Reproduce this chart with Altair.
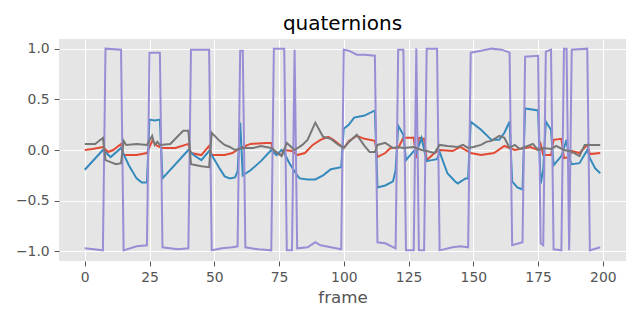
import altair as alt
import pandas as pd

# series: (frame, value) key points
red_f = [0,3,7,9,11,14,15,20,24,26,28,30,35,40,41,45,48,49,54,57,60,64,70,72,73,76,77,80,82,85,88,91,94,96,99,100,102,105,108,112,113,116,118,121,123,127,128,129,131,132,135,137,142,145,149,153,158,162,164,166,170,172,175,176,177,180,181,184,185,187,188,191,194,195,199]
red_v = [0.0,0.01,0.03,-0.02,0.0,0.06,-0.05,-0.05,-0.03,0.09,0.04,0.02,0.02,0.06,-0.03,-0.05,0.04,-0.05,-0.05,-0.03,0.02,0.06,0.07,0.07,-0.03,-0.05,0.0,-0.01,-0.05,-0.03,0.05,0.1,0.13,0.1,0.04,0.02,0.09,0.14,0.11,0.09,-0.07,-0.03,0.02,0.02,0.12,0.12,-0.08,0.12,0.11,-0.1,-0.03,0.0,-0.01,0.03,-0.03,-0.05,-0.03,0.04,0.02,0.0,0.02,0.03,0.0,0.06,-0.05,-0.05,0.1,0.11,-0.08,-0.07,-0.01,-0.03,0.05,-0.04,-0.03]

blue_f = [0,7,10,14,15,17,20,22,24,25,27,29,30,40,42,45,48,49,52,54,56,58,59,60,61,64,68,72,74,76,77,79,82,83,86,89,92,95,99,100,102,104,108,112,113,116,119,120,121,123,124,127,128,130,132,134,136,137,140,143,144,147,148,149,153,157,160,162,164,165,167,169,170,175,176,177,178,180,181,184,185,186,187,188,191,194,195,197,199]
blue_v = [-0.195,0.0,-0.07,0.02,-0.04,-0.15,-0.28,-0.32,-0.32,0.30,0.29,0.30,-0.28,0.0,-0.05,-0.1,-0.01,-0.05,-0.18,-0.26,-0.28,-0.27,-0.21,0.27,-0.25,-0.2,-0.11,0.0,-0.05,0.0,-0.03,-0.13,-0.25,-0.28,-0.29,-0.29,-0.25,-0.19,-0.17,0.21,0.25,0.32,0.34,0.39,-0.37,-0.35,-0.31,-0.2,0.24,0.15,-0.1,-0.01,-0.03,0.12,-0.11,-0.1,-0.09,-0.02,-0.23,-0.31,-0.33,-0.28,-0.28,0.28,0.2,0.1,0.1,0.17,0.28,-0.31,-0.37,-0.39,0.41,0.39,-0.33,-0.2,0.28,0.2,-0.15,-0.06,0.02,0.1,-0.08,-0.14,-0.13,0.0,-0.08,-0.18,-0.23]

purple_f = [0,7,8,14,15,20,24,25,29,30,36,40,41,48,49,53,57,59,60,61,62,67,72,73,77,78,80,81,82,86,89,91,95,99,100,102,105,108,112,113,116,120,121,123,124,127,128,129,131,132,136,137,142,145,148,149,153,157,161,164,165,169,170,175,176,177,178,180,181,184,185,186,187,188,194,195,199]
purple_v = [-0.97,-0.99,1.0,0.99,-0.99,-0.95,-0.94,0.96,0.96,-0.96,-0.98,-0.97,0.99,0.99,-0.99,-0.97,-0.96,-0.95,0.98,0.98,-0.96,-0.98,-0.99,1.0,1.0,-0.99,-0.99,0.99,-0.97,-0.96,-0.91,-0.94,-0.96,-0.98,0.99,0.98,0.94,0.94,0.93,-0.91,-0.92,-0.97,0.99,0.99,-0.99,-0.99,1.0,-0.99,-0.99,1.0,1.0,-0.99,-0.96,-0.95,-0.96,0.96,0.98,1.0,0.99,0.96,-0.94,-0.91,0.92,0.93,-0.92,-0.94,0.97,0.99,-0.98,-0.99,1.0,1.0,-0.99,0.99,1.0,-0.99,-0.96]

gray_f = [0,4,7,8,10,12,14,15,16,20,24,26,27,28,29,33,38,40,41,45,48,49,52,54,56,58,61,65,68,72,74,76,78,81,84,86,89,92,95,98,100,102,105,108,110,112,113,116,119,121,123,127,130,132,135,137,140,144,146,148,150,153,155,157,160,162,164,166,168,170,173,175,177,180,182,185,187,189,191,193,199]
gray_v = [0.06,0.06,0.12,-0.1,-0.12,-0.14,-0.13,0.09,0.05,0.06,0.05,0.14,0.05,0.08,0.05,0.06,0.19,0.19,-0.14,-0.16,-0.17,0.17,0.09,0.05,0.03,0.0,0.02,0.02,0.04,0.02,-0.02,-0.06,0.07,0.0,0.05,0.1,0.27,0.13,0.11,0.05,0.02,0.08,0.15,0.04,-0.02,-0.02,0.05,0.07,0.02,0.03,0.02,0.03,0.0,-0.01,-0.03,0.05,0.04,0.03,0.05,0.02,0.03,0.05,0.08,0.09,0.14,0.12,0.02,0.05,0.01,0.03,0.06,0.0,0.02,0.01,0.04,0.0,-0.01,-0.03,-0.06,0.05,0.05]

names = ["q0", "q1", "q2", "q3"]
colors = ["#E24A33", "#348ABD", "#988ED5", "#777777"]

rows = []
for i, (fs, vs) in enumerate([(red_f, red_v), (blue_f, blue_v), (purple_f, purple_v), (gray_f, gray_v)]):
    for f, v in zip(fs, vs):
        rows.append({"frame": f, "value": v, "series": names[i], "order": i})
df = pd.DataFrame(rows)

minus_fmt = "datum.value < 0 ? '\u2212' + format(-datum.value, '.1f') : format(datum.value, '.1f')"

chart = alt.Chart(df).mark_line(strokeWidth=2, clip=True).encode(
    x=alt.X("frame:Q", scale=alt.Scale(domain=[-9.95, 208.95], nice=False, zero=False),
            axis=alt.Axis(values=[0, 25, 50, 75, 100, 125, 150, 175, 200], title="frame")),
    y=alt.Y("value:Q", scale=alt.Scale(domain=[-1.095, 1.095], nice=False),
            axis=alt.Axis(values=[-1.0, -0.5, 0.0, 0.5, 1.0], labelExpr=minus_fmt, title=None)),
    color=alt.Color("series:N", scale=alt.Scale(domain=names, range=colors), legend=None),
    detail="series:N",
).properties(
    width=567, height=222,
    title=alt.TitleParams("quaternions", fontSize=20, font="DejaVu Sans", color="#000000",
                          fontWeight="normal", offset=5),
    autosize=alt.AutoSizeParams(type="none"),
    padding={"left": 51, "top": 31, "right": 6, "bottom": 50},
).configure_view(
    fill="#E5E5E5", stroke=None
).configure_axis(
    domain=False, gridColor="#FFFFFF", gridWidth=1, tickColor="#555555", tickSize=4.9,
    tickWidth=1, labelColor="#555555", labelFont="DejaVu Sans", labelFontSize=13.9,
    titleFont="DejaVu Sans", titleFontSize=16.7, titleColor="#555555", titleFontWeight="normal",
    labelPadding=4.9, titlePadding=5
)

chart.save("out.html", embed_options={"renderer": "svg", "actions": False})
